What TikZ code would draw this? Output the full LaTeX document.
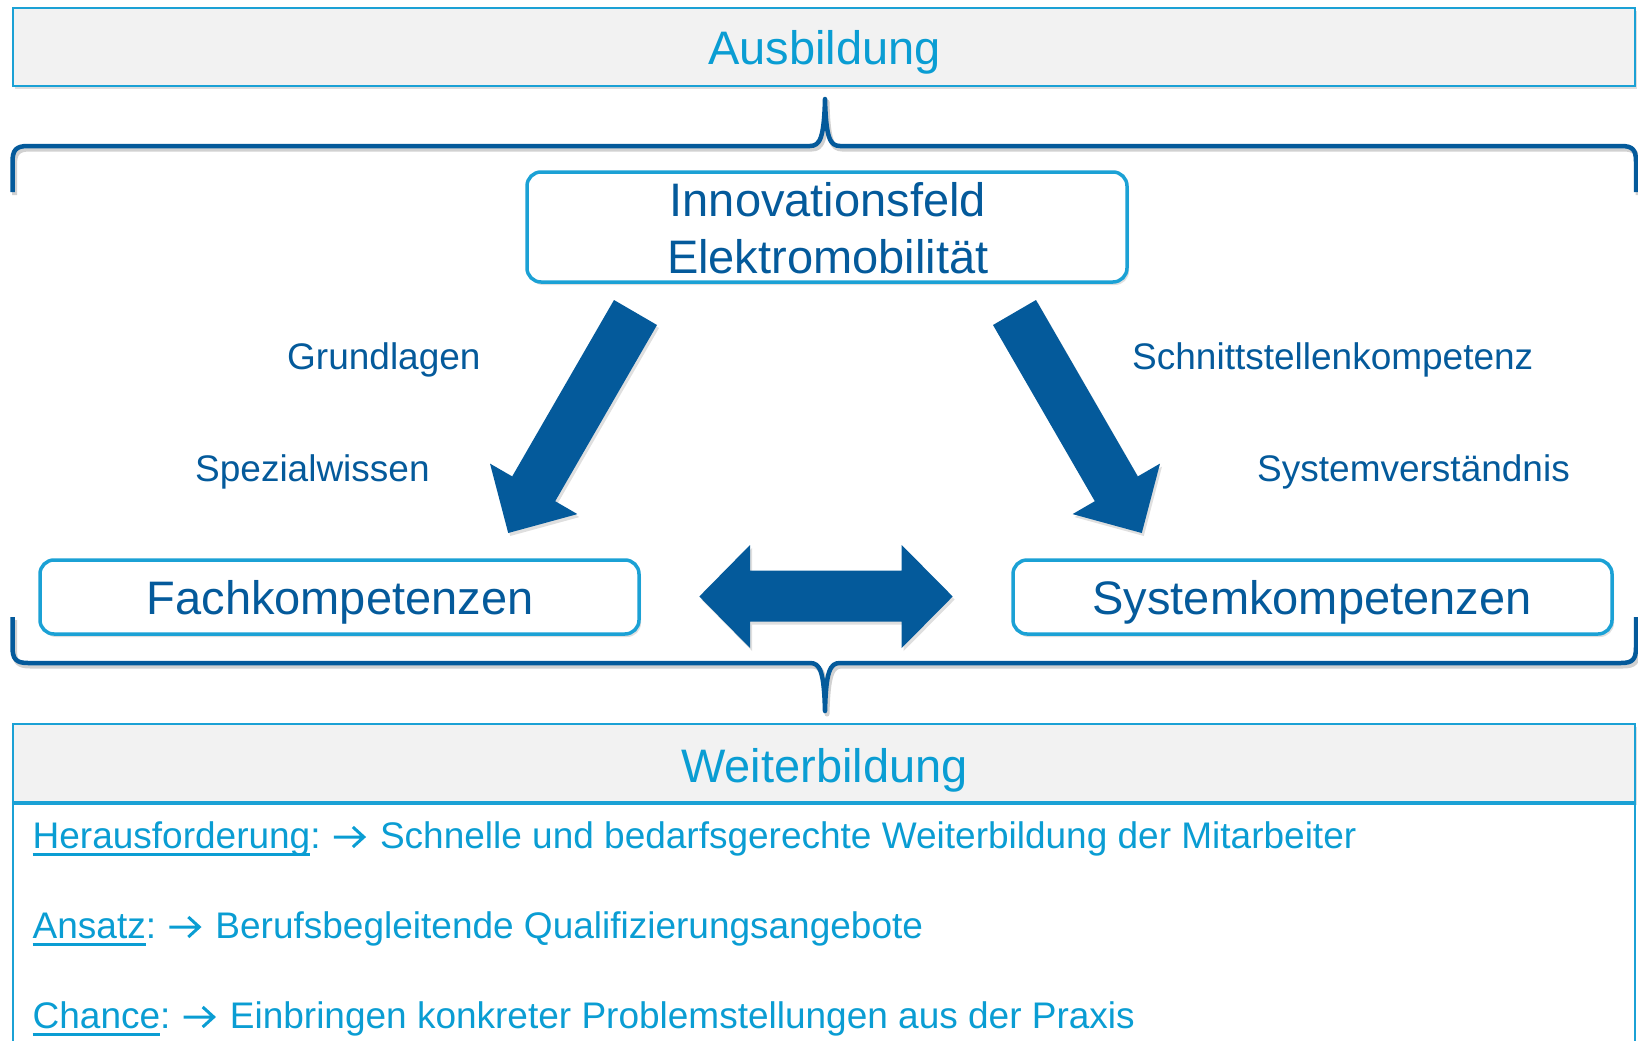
\documentclass[tikz,border=0pt]{standalone}
\usepackage{fontspec}
\setmainfont{Liberation Sans}
\usetikzlibrary{shadows,calc}
\definecolor{lblue}{HTML}{0A9DD3}
\definecolor{dblue}{HTML}{045A9B}
\definecolor{boxline}{HTML}{1BA1D5}
\definecolor{hdrgray}{HTML}{F2F2F2}
\newcommand\myul[1]{\setbox0=\hbox{#1}\rlap{\rule[-8pt]{\wd0}{2.6pt}}\box0}
\begin{document}
\begin{tikzpicture}[x=1pt,y=-1pt,
  shadowed/.style={drop shadow={opacity=0.25,shadow xshift=2pt,shadow yshift=-3pt}},
  headbox/.style={draw=boxline, line width=2.5pt, fill=hdrgray, inner sep=0pt, shadowed},
  bodybox/.style={draw=boxline, line width=2.5pt, fill=white, inner sep=0pt},
  roundbox/.style={draw=boxline, line width=3.5pt, fill=white, rounded corners=14pt, inner sep=0pt, shadowed},
  bigtext/.style={font=\fontsize{47}{56}\selectfont, inner sep=0pt, anchor=base},
  lbltext/.style={font=\fontsize{37}{44}\selectfont, text=dblue, inner sep=0pt, anchor=base west},
  bodytext/.style={font=\fontsize{37}{44}\selectfont, text=lblue, inner sep=0pt, anchor=base west},
  smallarrow/.style={draw=lblue, line width=3pt, line join=miter},
  blockarrow/.style={fill=dblue, shadowed},
  bracestyle/.style={draw=dblue, line width=4.5pt, line join=round},
  braceshadow/.style={draw=black, opacity=0.18, line width=5pt, line join=round}
]
\useasboundingbox (0,0) rectangle (1638,1041);

% top box
\node[headbox, minimum width=1622pt, minimum height=78pt] (ausb) at (824,47) {};
\node[bigtext, text=lblue] (ausbtxt) at (824.5,65) {Ausbildung};

% braces (shadow then line)
\begin{scope}[shift={(2,3)}]
\draw[braceshadow] (12.5,192) -- (12.5,162) .. controls (12.5,150) and (16,146) .. (28,146) -- (810,146) .. controls (820,146) and (824,138) .. (825,99) .. controls (826,138) and (830,146) .. (840,146) -- (1621,146) .. controls (1633,146) and (1636,150) .. (1636,162) -- (1636,192);
\draw[braceshadow] (12.5,617) -- (12.5,647) .. controls (12.5,659) and (16,663) .. (28,663) -- (810,663) .. controls (820,663) and (824,671) .. (825,711) .. controls (826,671) and (830,663) .. (840,663) -- (1621,663) .. controls (1633,663) and (1636,659) .. (1636,647) -- (1636,617);
\end{scope}
\draw[bracestyle] (12.5,192) -- (12.5,162) .. controls (12.5,150) and (16,146) .. (28,146) -- (810,146) .. controls (820,146) and (824,138) .. (825,99) .. controls (826,138) and (830,146) .. (840,146) -- (1621,146) .. controls (1633,146) and (1636,150) .. (1636,162) -- (1636,192);
\draw[bracestyle] (12.5,617) -- (12.5,647) .. controls (12.5,659) and (16,663) .. (28,663) -- (810,663) .. controls (820,663) and (824,671) .. (825,711) .. controls (826,671) and (830,663) .. (840,663) -- (1621,663) .. controls (1633,663) and (1636,659) .. (1636,647) -- (1636,617);

% Innovationsfeld box
\node[roundbox, minimum width=600pt, minimum height=110pt] (innov) at (827,227) {};
\node[bigtext, text=dblue] (innov1) at (827.8,216) {Innovationsfeld};
\node[bigtext, text=dblue] (innov2) at (827.7,273) {Elektromobilität};

% competence boxes
\node[roundbox, minimum width=599pt, minimum height=74pt] (fach) at (339.5,597) {};
\node[bigtext, text=dblue] (fachtxt) at (340,614) {Fachkompetenzen};
\node[roundbox, minimum width=599pt, minimum height=74pt] (sys) at (1312.5,597) {};
\node[bigtext, text=dblue] (systxt) at (1312,614) {Systemkompetenzen};

% block arrows
\fill[blockarrow] (614,300) -- (657,325) -- (555.2,501.2) -- (577.4,514.1) -- (508.2,533) -- (490,463.6) -- (512.2,476.4) -- cycle;
\fill[blockarrow] (1036,300) -- (993,325) -- (1094.8,501.2) -- (1072.6,514.1) -- (1141.8,533) -- (1160,463.6) -- (1137.8,476.4) -- cycle;
\fill[blockarrow] (699.3,596.5) -- (750,545) -- (750,570.7) -- (901.7,570.7) -- (901.7,545) -- (952.7,596.5) -- (901.7,648) -- (901.7,621.7) -- (750,621.7) -- (750,648) -- cycle;

% labels
\node[lbltext] (grund) at (287,369) {Grundlagen};
\node[lbltext] (spez) at (195,481) {Spezialwissen};
\node[lbltext] (schnitt) at (1132,369) {Schnittstellenkompetenz};
\node[lbltext] (sysv) at (1257,481) {Systemverständnis};

% Weiterbildung box
\node[bodybox, minimum width=1622pt, minimum height=280pt] (wbody) at (824,943) {};
\node[headbox, minimum width=1622pt, minimum height=78pt] (weiter) at (824,763) {};
\draw[boxline, line width=3pt] (weiter.south west) -- (weiter.south east);
\node[bigtext, text=lblue] (weitertxt) at (824.5,782) {Weiterbildung};

% body lines
\node[bodytext] (h1) at (32.5,848) {\myul{Herausforderung}:};
\coordinate (a1s) at ($(h1.base east)+(13,-11)$);
\coordinate (a1e) at ($(a1s)+(30,0)$);
\draw[smallarrow] (a1s) -- (a1e) ++(-11,-10) -- (a1e) -- ++(-11,10);
\node[bodytext] (t1) at ($(a1e)+(16,11)$) {Schnelle und bedarfsgerechte Weiterbildung der Mitarbeiter};

\node[bodytext] (h2) at (32.5,938) {\myul{Ansatz}:};
\coordinate (a2s) at ($(h2.base east)+(13,-11)$);
\coordinate (a2e) at ($(a2s)+(30,0)$);
\draw[smallarrow] (a2s) -- (a2e) ++(-11,-10) -- (a2e) -- ++(-11,10);
\node[bodytext] (t2) at ($(a2e)+(16,11)$) {Berufsbegleitende Qualifizierungsangebote};

\node[bodytext] (h3) at (32.5,1028) {\myul{Chance}:};
\coordinate (a3s) at ($(h3.base east)+(13,-11)$);
\coordinate (a3e) at ($(a3s)+(30,0)$);
\draw[smallarrow] (a3s) -- (a3e) ++(-11,-10) -- (a3e) -- ++(-11,10);
\node[bodytext] (t3) at ($(a3e)+(16,11)$) {Einbringen konkreter Problemstellungen aus der Praxis};
\end{tikzpicture}
\end{document}
